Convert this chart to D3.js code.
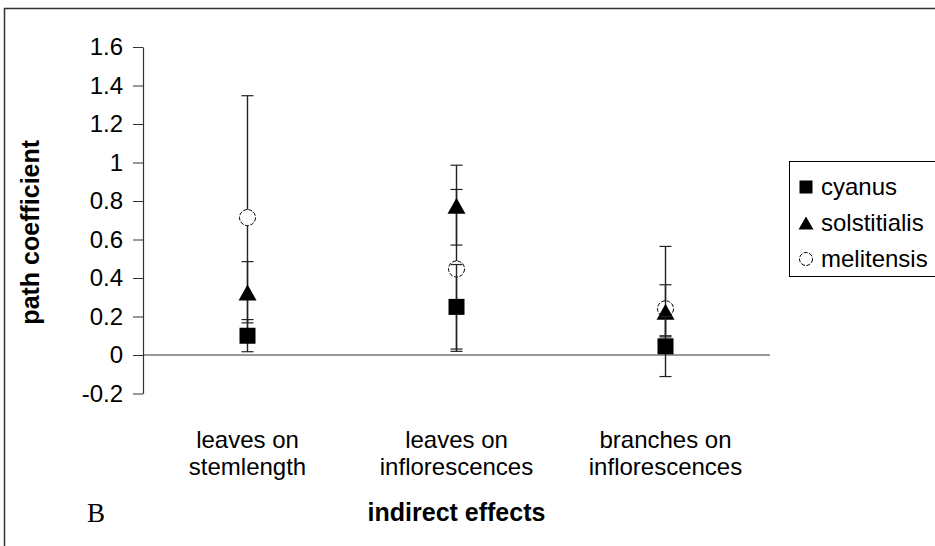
<!DOCTYPE html>
<html>
<head>
<meta charset="utf-8">
<script src="https://cdn.jsdelivr.net/npm/d3@7"></script>
<style>
  body { margin: 0; background: #fff; }
  svg { display: block; font-family: Arial, "Liberation Sans", sans-serif; }
</style>
</head>
<body>
<div id="chart"></div>
<script>
// categories and series (path coefficients with error bar ends)
const categories = [
    ["leaves on", "stemlength"],
    ["leaves on", "inflorescences"],
    ["branches on", "inflorescences"]
];
const seriesNames = ["cyanus", "solstitialis", "melitensis"];

const cyanus = [0.10, 0.25, 0.045];
const cyanusLow = [0.017, 0.031, -0.112];
const cyanusHigh = [0.184, 0.47, 0.20];

const solstitialis = [0.325, 0.775, 0.225];
const solstitialisLow = [0.167, 0.571, 0.094];
const solstitialisHigh = [0.485, 0.986, 0.365];

const melitensis = [0.714, 0.447, 0.24];
const melitensisLow = [0.08, 0.019, 0.10];
const melitensisHigh = [1.347, 0.86, 0.564];

const yTicks = [-0.2, 0, 0.2, 0.4, 0.6, 0.8, 1, 1.2, 1.4, 1.6];

document.addEventListener("DOMContentLoaded", function () {
    const width = 935;
    const height = 546;
    const plotLeft = 143, plotRight = 770, plotTop = 47, plotBottom = 393.5;
    const fontSize = 24;

    const svg = d3.select("#chart")
        .append("svg")
        .attr("width", width)
        .attr("height", height);

    // outer frame (only top + left visible)
    svg.append("path")
        .attr("d", `M4.5,${height} V8.5 H${width}`)
        .attr("fill", "none")
        .attr("stroke", "#333")
        .attr("stroke-width", 1.5);

    const x = d3.scaleBand()
        .domain(d3.range(categories.length))
        .range([plotLeft, plotRight]);

    const y = d3.scaleLinear()
        .domain([-0.2, 1.6])
        .range([plotBottom, plotTop]);

    // zero line
    svg.append("line")
        .attr("x1", plotLeft)
        .attr("x2", plotRight)
        .attr("y1", y(0))
        .attr("y2", y(0))
        .attr("stroke", "#777")
        .attr("stroke-width", 1.5);

    // y axis
    const yAxis = svg.append("g")
        .attr("transform", `translate(${plotLeft},0)`)
        .call(d3.axisLeft(y).tickValues(yTicks).tickSize(10).tickSizeOuter(0).tickPadding(10));
    yAxis.select(".domain").attr("stroke", "#333").attr("stroke-width", 1.2);
    yAxis.selectAll(".tick line").attr("stroke", "#333");
    yAxis.selectAll(".tick text")
        .attr("font-size", fontSize)
        .attr("font-family", "Arial, 'Liberation Sans', sans-serif")
        .attr("fill", "#000")
        .text(d => String(+d.toFixed(1)));

    // category labels
    categories.forEach((lines, i) => {
        const t = svg.append("text")
            .attr("text-anchor", "middle")
            .attr("font-size", fontSize)
            .attr("fill", "#000");
        lines.forEach((ln, j) => {
            t.append("tspan")
                .attr("x", x(i) + x.bandwidth() / 2)
                .attr("y", 448 + j * 26.5)
                .text(ln);
        });
    });

    // axis titles
    svg.append("text")
        .attr("x", (plotLeft + plotRight) / 2)
        .attr("y", 521)
        .attr("text-anchor", "middle")
        .attr("font-size", 25)
        .attr("font-weight", "bold")
        .text("indirect effects");

    svg.append("text")
        .attr("transform", `translate(39,${(plotTop + plotBottom) / 2 + 12}) rotate(-90)`)
        .attr("text-anchor", "middle")
        .attr("font-size", 25)
        .attr("font-weight", "bold")
        .text("path coefficient");

    svg.append("text")
        .attr("x", 87)
        .attr("y", 522)
        .attr("font-family", "'Times New Roman', 'Liberation Serif', serif")
        .attr("font-size", 27)
        .text("B");

    // marker shapes
    function drawMarker(g, kind, cx, cy, s) {
        if (kind === "cyanus") {
            g.append("rect")
                .attr("x", cx - s / 2).attr("y", cy - s / 2)
                .attr("width", s).attr("height", s)
                .attr("fill", "#000");
        } else if (kind === "solstitialis") {
            g.append("path")
                .attr("d", `M${cx},${cy - s / 2} L${cx + s / 2 + 1},${cy + s / 2} L${cx - s / 2 - 1},${cy + s / 2} Z`)
                .attr("fill", "#000");
        } else {
            g.append("circle")
                .attr("cx", cx).attr("cy", cy).attr("r", s / 2)
                .attr("fill", "#fff")
                .attr("stroke", "#000")
                .attr("stroke-width", 1)
                .attr("stroke-dasharray", "4,1.5");
        }
    }

    const seriesData = {
        cyanus: { v: cyanus, lo: cyanusLow, hi: cyanusHigh },
        solstitialis: { v: solstitialis, lo: solstitialisLow, hi: solstitialisHigh },
        melitensis: { v: melitensis, lo: melitensisLow, hi: melitensisHigh }
    };

    // draw melitensis first so the other series sit on top
    ["melitensis", "solstitialis", "cyanus"].forEach(name => {
        const s = seriesData[name];
        const g = svg.append("g");
        s.v.forEach((v, i) => {
            const cx = x(i) + x.bandwidth() / 2;
            g.append("line")
                .attr("x1", cx).attr("x2", cx)
                .attr("y1", y(s.lo[i])).attr("y2", y(s.hi[i]))
                .attr("stroke", "#222").attr("stroke-width", 1.4);
            [s.lo[i], s.hi[i]].forEach(e => {
                g.append("line")
                    .attr("x1", cx - 6).attr("x2", cx + 6)
                    .attr("y1", y(e)).attr("y2", y(e))
                    .attr("stroke", "#222").attr("stroke-width", 1.2);
            });
            drawMarker(g, name, cx, y(v), 16);
        });
    });

    // legend
    const legend = svg.append("g");
    legend.append("rect")
        .attr("x", 789.5).attr("y", 161.5)
        .attr("width", 150).attr("height", 115)
        .attr("fill", "#fff")
        .attr("stroke", "#000");

    seriesNames.forEach((name, i) => {
        const cy = 187 + i * 36;
        drawMarker(legend, name, 806, cy, 13);
        legend.append("text")
            .attr("x", 821)
            .attr("y", cy)
            .attr("dy", "0.35em")
            .attr("font-size", fontSize)
            .attr("fill", "#000")
            .text(name);
    });
});
</script>
</body>
</html>
